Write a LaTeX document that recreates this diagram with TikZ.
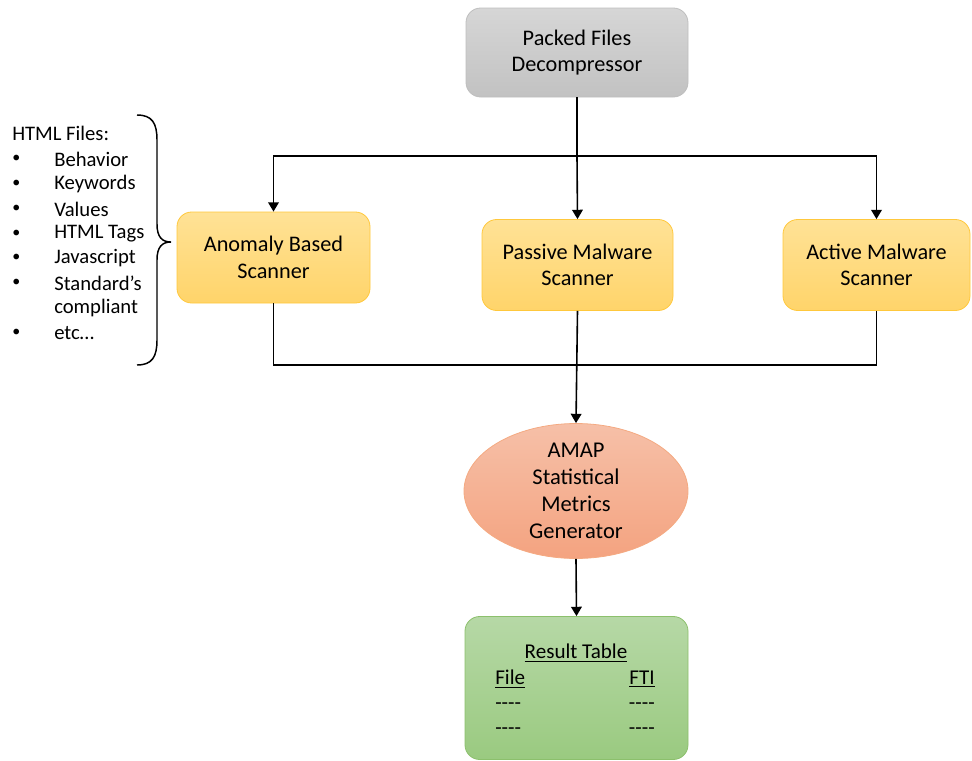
\documentclass[tikz,border=0pt]{standalone}
\usepackage{fontspec}
\setmainfont{Carlito}
\usetikzlibrary{shapes.geometric,arrows.meta}
\definecolor{grayTop}{RGB}{214,214,214}
\definecolor{grayBot}{RGB}{194,194,194}
\definecolor{grayLine}{RGB}{190,190,190}
\definecolor{orgTop}{RGB}{255,226,150}
\definecolor{orgBot}{RGB}{255,212,106}
\definecolor{orgLine}{RGB}{255,200,60}
\definecolor{salTop}{RGB}{246,192,168}
\definecolor{salBot}{RGB}{244,163,128}
\definecolor{salLine}{RGB}{244,170,130}
\definecolor{grnTop}{RGB}{182,216,166}
\definecolor{grnBot}{RGB}{154,202,128}
\definecolor{grnLine}{RGB}{140,192,108}
\newcommand{\dashrow}{{-}{-}{-}{-}}
\newcommand{\smallbullet}{{\fontsize{12}{12}\selectfont•}}
\tikzset{
  box/.style={rectangle, rounded corners=11pt, line width=0.6pt, align=center,
    font=\fontsize{16.7}{19.8}\selectfont, inner sep=0pt},
  graybox/.style={box, draw=grayLine, top color=grayTop, bottom color=grayBot},
  orangebox/.style={box, draw=orgLine, top color=orgTop, bottom color=orgBot},
  greenbox/.style={box, draw=grnLine, top color=grnTop, bottom color=grnBot},
  genellipse/.style={ellipse, draw=salLine, line width=0.6pt, top color=salTop, bottom color=salBot,
    align=center, inner sep=0pt, font=\fontsize{16.9}{20.2}\selectfont},
  conn/.style={line width=1.2pt, black},
  arrow/.style={conn, -{Triangle[width=8pt,length=7pt]}},
  listtext/.style={anchor=west, inner sep=0pt, font=\fontsize{15.5}{18}\selectfont},
  tabtext/.style={inner sep=0pt, font=\fontsize{15.8}{18}\selectfont},
}
\begin{document}
\begin{tikzpicture}[x=0.75pt,y=-0.75pt]
\useasboundingbox (0,0) rectangle (972,761);

% process boxes
\node[graybox, minimum width=166.5pt, minimum height=66.75pt] (dec) at (577,52.5) {Packed Files\\Decompressor};
\node[orangebox, minimum width=144.75pt, minimum height=68.25pt] (anom) at (273.5,257.5) {Anomaly Based\\Scanner};
\node[orangebox, minimum width=143.25pt, minimum height=68.25pt] (pass) at (577.5,265) {Passive Malware\\Scanner};
\node[orangebox, minimum width=140.25pt, minimum height=68.25pt] (act) at (876.5,265) {Active Malware\\Scanner};
\node[genellipse, minimum width=168pt, minimum height=93pt] (gen) at (576,491) {AMAP\\Statistical\\Metrics\\Generator};
\node[greenbox, minimum width=167.25pt, minimum height=107.25pt] (tab) at (576.5,688) {};

% result table contents
\node[tabtext] (tabtitle) at (576,653) {\underline{Result Table}};
\node[tabtext, anchor=west] (colfile) at (495,679) {\underline{File}};
\node[tabtext, anchor=east] (colfti) at (655,679) {\underline{FTI}};
\node[tabtext, anchor=west] (fa) at (495,706) {\dashrow};
\node[tabtext, anchor=east] (fb) at (655,706) {\dashrow};
\node[tabtext, anchor=west] (fc) at (495,731) {\dashrow};
\node[tabtext, anchor=east] (fd) at (655,731) {\dashrow};

% fan-out from the decompressor
\coordinate (split) at (577,156);
\draw[line width=2.2pt] (dec.south) -- (split);
\draw[arrow] (split) -| (anom.north);
\draw[arrow] (split) -| (act.north);
\draw[arrow] (split) -- (pass.north);

% merge into the metrics generator
\coordinate (merge) at (577,365);
\draw[conn] (anom.south) |- (merge);
\draw[conn] (act.south) |- (merge);
\draw[arrow] (pass.south) -- (gen.north);
\draw[arrow] (gen.south) -- (tab.north);

% HTML feature list
\node[listtext] (lh) at (12,133) {HTML Files:};
\foreach \y/\t [count=\i] in {159/Behavior,184/Keywords,209/Values,234/HTML Tags,258/Javascript,283/Standard’s,333/etc…}{
  \node[listtext] (lb\i) at (12,\y) {\smallbullet};
  \node[listtext] (lt\i) at (54,\y) {\t};
}
\node[listtext] (lcomp) at (54,308) {compliant};

% brace pointing at the anomaly scanner
\draw[line width=1.1pt] (137,115) .. controls (152,115) and (157,123) .. (157,140)
  -- (157,224) .. controls (157,237) and (162,242) .. (171,242)
  .. controls (162,242) and (157,247) .. (157,260)
  -- (157,340) .. controls (157,357) and (152,365) .. (137,365);
\end{tikzpicture}
\end{document}
